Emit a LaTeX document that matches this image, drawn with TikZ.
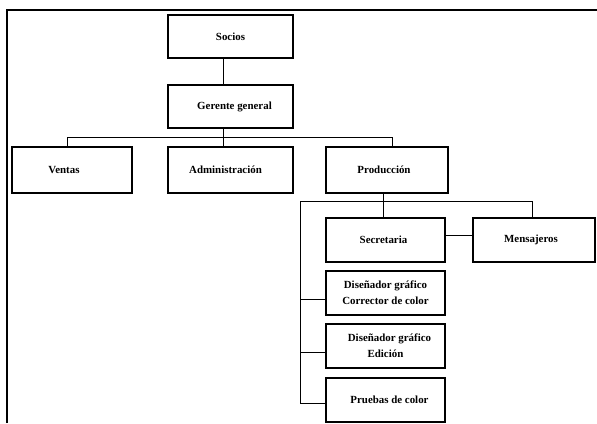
\documentclass[tikz,border=0pt]{standalone}
\usepackage{fontspec}
\setmainfont{Liberation Serif}
\begin{document}
\begin{tikzpicture}[x=1pt,y=-1pt,
  box/.style={draw,line width=1.3pt,inner sep=0pt,align=center,
    font=\bfseries\fontsize{10.9}{16}\selectfont},
  conn/.style={line width=1pt},
  frame/.style={line width=2pt}]
\useasboundingbox (0,0) rectangle (597,423);
\draw[frame] (7,423) -- (7,10) -- (597,10);
\node[box,minimum width=125pt,minimum height=43pt] (socios) at (230.5,36.5) {Socios};
\node[box,minimum width=125pt,minimum height=43pt] (gerente) at (230.5,106.5) {\hspace*{8pt}Gerente general};
\node[box,minimum width=120pt,minimum height=46pt] (ventas) at (72,170) {Ventas\hspace*{16pt}};
\node[box,minimum width=125pt,minimum height=46pt] (admin) at (230.5,170) {Administración\hspace*{10pt}};
\node[box,minimum width=122pt,minimum height=46pt] (produccion) at (387,170) {Producción\hspace*{6pt}};
\node[box,minimum width=119pt,minimum height=44pt] (secretaria) at (385.5,240) {Secretaria\hspace*{4pt}};
\node[box,minimum width=122pt,minimum height=44pt] (mensajeros) at (534,240) {Mensajeros\hspace*{6pt}};
\node[box,minimum width=119pt,minimum height=44pt] (corrector) at (385.5,293) {Diseñador gráfico\\Corrector de color};
\node[box,minimum width=119pt,minimum height=44pt] (edicion) at (385.5,346) {\hspace*{8pt}Diseñador gráfico\\Edición};
\node[box,minimum width=119pt,minimum height=44pt] (pruebas) at (385.5,400) {\hspace*{8pt}Pruebas de color};
\coordinate (b1) at (223,137);
\coordinate (b2) at (301,201);
\draw[conn] ([xshift=-7.5pt]socios.south) -- ([xshift=-7.5pt]gerente.north);
\draw[conn] ([xshift=-7.5pt]gerente.south) -- (b1);
\draw[conn] ([xshift=-5pt]ventas.north) |- ([xshift=5pt]produccion.north |- b1) -- ([xshift=5pt]produccion.north);
\draw[conn] (b1) -- ([xshift=-7.5pt]admin.north);
\draw[conn] ([xshift=-4pt]produccion.south) -- ([xshift=-2.5pt]secretaria.north);
\draw[conn] (corrector.west |- b2) ++(-25pt,0) coordinate (bl) -- ([xshift=-2pt]mensajeros.north |- b2) -- ([xshift=-2pt]mensajeros.north);
\draw[conn] (bl) |- ([yshift=-3pt]pruebas.west);
\draw[conn] (bl |- corrector.west) ++(0,-6pt) -- ([yshift=-6pt]corrector.west);
\draw[conn] (bl |- edicion.west) ++(0,-6pt) -- ([yshift=-6pt]edicion.west);
\draw[line width=0.8pt] ([yshift=5pt]secretaria.east) -- ([yshift=5pt]mensajeros.west);
\end{tikzpicture}
\end{document}
